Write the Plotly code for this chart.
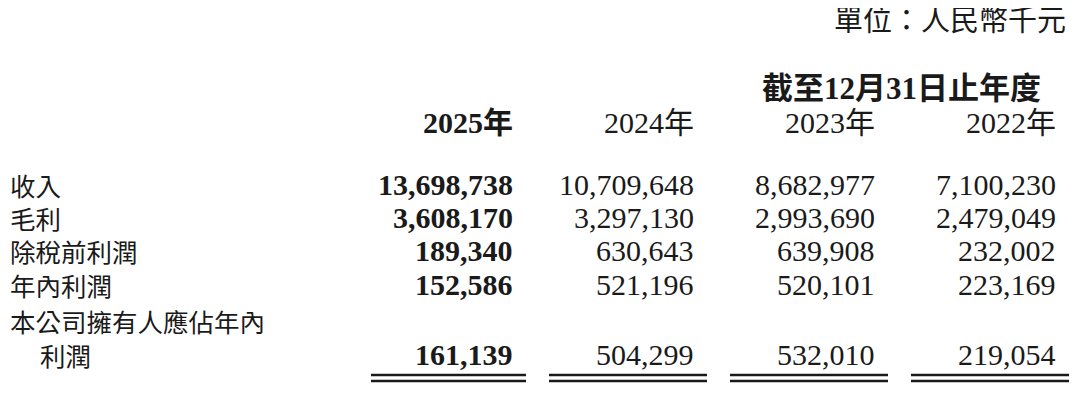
import plotly.graph_objects as go

unit_label = "單位：人民幣千元"
period_label = "截至12月31日止年度"
years = ["2025年", "2024年", "2023年", "2022年"]
row_labels = ["收入", "毛利", "除稅前利潤", "年內利潤", "本公司擁有人應佔年內|利潤"]
values = {
    "2025年": ["13,698,738", "3,608,170", "189,340", "152,586", "161,139"],
    "2024年": ["10,709,648", "3,297,130", "630,643", "521,196", "504,299"],
    "2023年": ["8,682,977", "2,993,690", "639,908", "520,101", "532,010"],
    "2022年": ["7,100,230", "2,479,049", "232,002", "223,169", "219,054"],
}

W, H = 1080, 401
DX, DY = -7, -8
col_right = [513, 694, 875, 1056]
row_y = [184, 217, 250, 284, 354]
CJK = "Noto Sans CJK TC"
NUM = "Liberation Serif"

fig = go.Figure()
ann = []
def t(x, y, s, anchor="right", size=25, bold=False, font=CJK):
    if bold:
        s = "<b>" + s + "</b>"
    ann.append(dict(x=x + DX, y=y + DY, xref="x", yref="y", text=s, showarrow=False,
                    xanchor=anchor, yanchor="middle", borderpad=0,
                    font=dict(family=font, size=size, color="#1a1a1a")))

t(1066, 18, unit_label, size=29)
t(900, 88, period_label, anchor="center", size=31, bold=True, font=NUM + ", " + CJK)
for i, yr in enumerate(years):
    t(col_right[i], 122, yr, size=30, bold=(i == 0), font=NUM + ", " + CJK)
for r, lab in enumerate(row_labels):
    if "|" in lab:
        a, b = lab.split("|")
        t(8, 320, a, anchor="left", size=25.5)
        t(38, row_y[r], b, anchor="left", size=25.5)
    else:
        t(8, row_y[r], lab, anchor="left", size=25.5)
    for i, yr in enumerate(years):
        t(col_right[i], row_y[r], values[yr][r], size=30, bold=(i == 0), font=NUM)

shapes = []
for xr in col_right:
    for yy in (375, 381):
        shapes.append(dict(type="line", xref="x", yref="y",
                           x0=xr - 143 + DX if xr == 513 else xr - 146 + DX,
                           x1=xr + 12 + DX, y0=yy + DY, y1=yy + DY,
                           line=dict(color="#1a1a1a", width=2.5)))

fig.update_layout(width=W, height=H, margin=dict(l=0, r=0, t=0, b=0),
                  paper_bgcolor="white", plot_bgcolor="white",
                  annotations=ann, shapes=shapes, showlegend=False,
                  xaxis=dict(range=[0, W], visible=False, fixedrange=True),
                  yaxis=dict(range=[H, 0], visible=False, fixedrange=True))
fig.write_html("out.html")
